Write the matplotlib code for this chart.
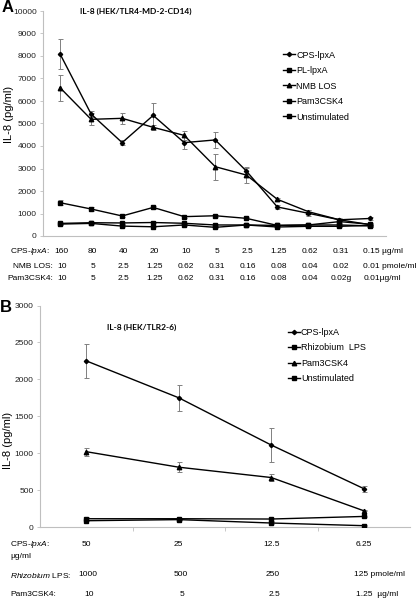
import numpy as np
import matplotlib
matplotlib.use('Agg')
import matplotlib.pyplot as plt
import matplotlib.transforms as mtrans

plt.rcParams['font.family'] = ['Liberation Sans', 'DejaVu Sans']
plt.rcParams['font.size'] = 6
plt.rcParams['mathtext.fontset'] = 'custom'
plt.rcParams['mathtext.rm'] = 'Liberation Sans'
plt.rcParams['mathtext.it'] = 'Liberation Sans:italic'

# ---- panel A data (HEK/TLR4-MD-2-CD14) ----
cps_A_conc = ['160', '80', '40', '20', '10', '5', '2.5', '1.25', '0.62', '0.31']
nmb_A_conc = ['10', '5', '2.5', '1.25', '0.62', '0.31', '0.16', '0.08', '0.04', '0.02']
pam_A_conc = ['10', '5', '2.5', '1.25', '0.62', '0.31', '0.16', '0.08', '0.04', '0.02g']
last_A = ['0.15 µg/ml', '0.01 pmole/ml', '0.01µg/ml']

cps_A = [8090, 5420, 4150, 5360, 4150, 4270, 2890, 1290, 1010, 720, 780]
cps_A_err = [680, 150, 120, 570, 270, 370, 150, 80, 130, 60, 70]
pl_A = [560, 590, 580, 600, 565, 490, 490, 470, 490, 490, 450]
pl_A_err = [30, 30, 40, 30, 30, 30, 30, 30, 30, 30, 30]
nmb_A = [6590, 5185, 5230, 4830, 4470, 3080, 2710, 1630, 1080, 720, 500]
nmb_A_err = [580, 260, 250, 100, 200, 580, 370, 60, 60, 50, 40]
pam_A = [1480, 1200, 890, 1270, 860, 900, 785, 470, 490, 640, 520]
pam_A_err = [120, 80, 60, 50, 40, 50, 40, 30, 30, 40, 40]
uns_A = [530, 560, 440, 410, 490, 385, 490, 400, 430, 430, 470]
uns_A_err = [30, 30, 30, 30, 30, 30, 30, 30, 30, 30, 30]

# ---- panel B data (HEK/TLR2-6) ----
cps_B_conc = ['50', '25', '12.5', '6.25']
rhiz_B_conc = ['1000', '500', '250']
pam_B_conc = ['10', '5', '2.5']
cps_B = [2250, 1750, 1110, 520]
cps_B_err = [230, 175, 225, 40]
rhiz_B = [112, 112, 108, 143]
rhiz_B_err = [20, 15, 20, 10]
pam_B = [1020, 810, 670, 220]
pam_B_err = [55, 65, 45, 10]
uns_B = [85, 100, 54, 18]
uns_B_err = [10, 10, 10, 5]

W, H = 416, 600
fig = plt.figure(figsize=(W / 100, H / 100), dpi=100)


def fx(px):
    return px / W


def fy(py):
    return 1 - py / H


def style_axes(ax):
    for s in ['top', 'right']:
        ax.spines[s].set_visible(False)
    for s in ['left', 'bottom']:
        ax.spines[s].set_color('#bfbfbf')
        ax.spines[s].set_linewidth(0.8)
    ax.tick_params(axis='y', length=2.5, width=0.6, color='#bfbfbf', labelsize=6, pad=2, labelcolor='#222222')
    ax.set_ylabel('IL-8 (pg/ml)', fontsize=8)


def series(ax, x, y, err, marker, ms, label, ecol='#808080'):
    ax.errorbar(x, y, yerr=err, fmt='none', ecolor=ecol, elinewidth=0.7, capsize=1.8, capthick=0.7, zorder=2)
    ax.plot(x, y, color='black', lw=1.0, marker=marker, ms=ms, mfc='black', mec='black', label=label, zorder=3)


# ---------------- panel A ----------------
axA = fig.add_axes([fx(43), fy(236), fx(386) - fx(43), fy(11) - fy(236)])
xA = np.arange(len(cps_A))
series(axA, xA, cps_A, cps_A_err, 'D', 2.2, 'CPS-lpxA')
series(axA, xA, pl_A, pl_A_err, 's', 3.0, 'PL-lpxA')
series(axA, xA, nmb_A, nmb_A_err, '^', 3.2, 'NMB LOS')
series(axA, xA, pam_A, pam_A_err, 's', 3.2, 'Pam3CSK4')
series(axA, xA, uns_A, uns_A_err, 's', 3.0, 'Unstimulated')
axA.set_xlim(-0.55, 10.5)
axA.set_ylim(0, 10000)
axA.set_yticks(np.arange(0, 10001, 1000))
axA.set_xticks([])
style_axes(axA)
axA.yaxis.set_label_coords(-0.085, 0.54)
axA.legend(loc='upper left', bbox_to_anchor=(0.69, 0.84), frameon=False, fontsize=6.5,
           handlelength=1.3, handletextpad=0.15, labelspacing=0.72, borderaxespad=0)
axA.text(0.27, 1.0, 'IL-8 (HEK/TLR4-MD-2-CD14)', transform=axA.transAxes, ha='center', va='center',
         fontsize=6, fontweight='bold', family=['Lato', 'DejaVu Sans'])
fig.text(fx(2), fy(8), 'A', fontsize=12, fontweight='bold', va='center', ha='left')

trA = mtrans.blended_transform_factory(axA.transData, fig.transFigure)
rowsA = [(cps_A_conc, 252), (nmb_A_conc, 266), (pam_A_conc, 278)]
for (vals, py), last in zip(rowsA, last_A):
    for i, v in enumerate(vals):
        axA.text(i + 0.05, fy(py), v, transform=trA, ha='center', va='center', fontsize=6)
    axA.text(9.77, fy(py), last, transform=trA, ha='left', va='center', fontsize=6)
fig.text(fx(10), fy(252), r'CPS-$\it{lpxA}$:', fontsize=6, va='center', ha='left')
fig.text(fx(13), fy(266), 'NMB LOS:', fontsize=6, va='center', ha='left')
fig.text(fx(7), fy(278), 'Pam3CSK4:', fontsize=6, va='center', ha='left')

# ---------------- panel B ----------------
axB = fig.add_axes([fx(40), fy(527), fx(410) - fx(40), fy(305.5) - fy(527)])
xB = np.arange(len(cps_B))
series(axB, xB, cps_B, cps_B_err, 'D', 2.2, 'CPS-lpxA')
series(axB, xB, rhiz_B, rhiz_B_err, 's', 3.0, 'Rhizobium  LPS')
series(axB, xB, pam_B, pam_B_err, '^', 3.2, 'Pam3CSK4')
series(axB, xB, uns_B, uns_B_err, 's', 3.0, 'Unstimulated')
axB.set_xlim(-0.5, 3.5)
axB.set_ylim(0, 3000)
axB.set_yticks(np.arange(0, 3001, 500))
axB.set_xticks([0.5, 1.5, 2.5])
axB.set_xticklabels([])
axB.tick_params(axis='x', length=3, width=0.6, color='#bfbfbf', direction='out')
style_axes(axB)
axB.yaxis.set_label_coords(-0.073, 0.39)
axB.legend(loc='upper left', bbox_to_anchor=(0.66, 0.915), frameon=False, fontsize=6.5,
           handlelength=1.3, handletextpad=0.15, labelspacing=0.72, borderaxespad=0)
axB.text(0.276, 0.903, 'IL-8 (HEK/TLR2-6)', transform=axB.transAxes, ha='center', va='center',
         fontsize=6, fontweight='bold', family=['Lato', 'DejaVu Sans'])
fig.text(fx(0), fy(307), 'B', fontsize=12, fontweight='bold', va='center', ha='left')

trB = mtrans.blended_transform_factory(axB.transData, fig.transFigure)
for i, v in enumerate(cps_B_conc):
    axB.text(i, fy(545), v, transform=trB, ha='center', va='center', fontsize=6)
for i, v in enumerate(rhiz_B_conc):
    axB.text(i + 0.02, fy(575), v, transform=trB, ha='center', va='center', fontsize=6)
for i, v in enumerate(pam_B_conc):
    axB.text(i + 0.03, fy(595), v, transform=trB, ha='center', va='center', fontsize=6)
axB.text(2.9, fy(575), '125 pmole/ml', transform=trB, ha='left', va='center', fontsize=6)
axB.text(2.92, fy(595), '1.25  µg/ml', transform=trB, ha='left', va='center', fontsize=6)

fig.text(fx(10), fy(545), r'CPS-$\it{lpxA}$:', fontsize=6, va='center', ha='left')
fig.text(fx(10), fy(556), 'µg/ml', fontsize=6, va='center', ha='left')
fig.text(fx(10), fy(575), r'$\it{Rhizobium}$ LPS:', fontsize=6, va='center', ha='left')
fig.text(fx(10), fy(595), 'Pam3CSK4:', fontsize=6, va='center', ha='left')

fig.savefig('out.png', dpi=100)
